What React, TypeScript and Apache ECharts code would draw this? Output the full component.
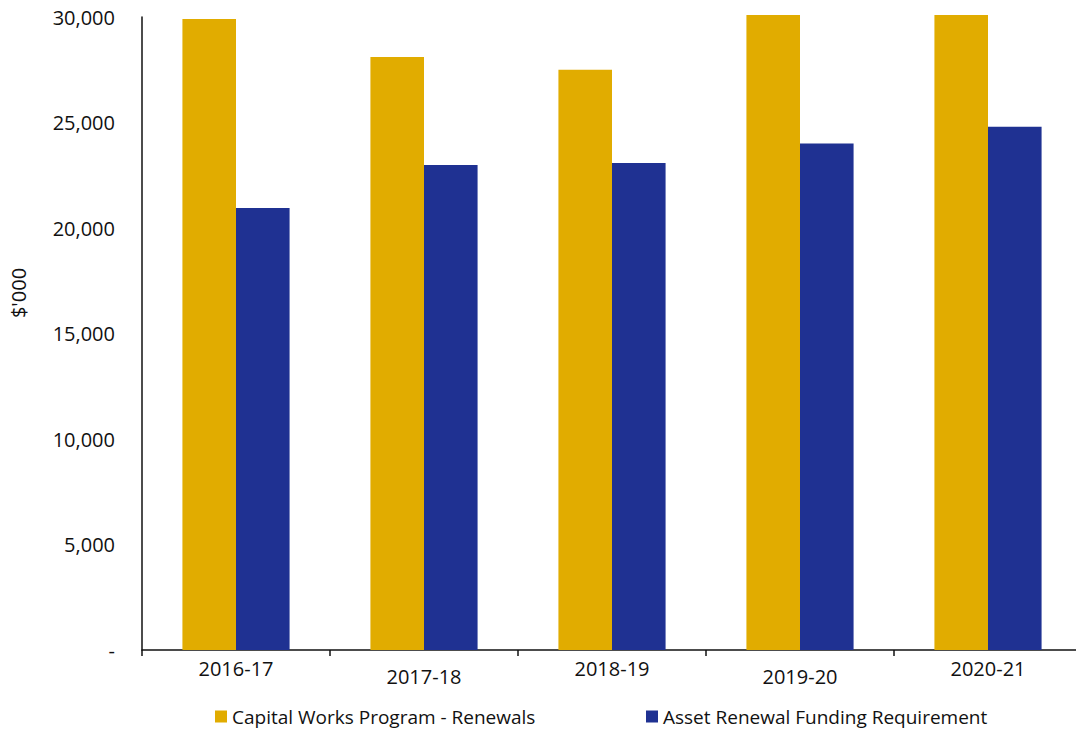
import React, { useEffect, useRef } from "react";
import * as echarts from "echarts";

const categories = ["2016-17", "2017-18", "2018-19", "2019-20", "2020-21"];
const capitalWorks = [29900, 28100, 27500, 30100, 30100];
const assetRenewal = [20950, 22980, 23080, 24010, 24800];
const seriesNames = ["Capital Works Program - Renewals", "Asset Renewal Funding Requirement"];
const yTitle = "$'000";

const FONT = "Open Sans";
const FS = 19;

export default function App() {
  const ref = useRef<HTMLDivElement>(null);
  useEffect(() => {
    if (!ref.current) return;
    const chart = echarts.init(ref.current, undefined, { renderer: "svg" });
    chart.setOption({
      animation: false,
      backgroundColor: "#ffffff",
      textStyle: { fontFamily: FONT },
      grid: { left: 142, top: 17, width: 940, height: 633, containLabel: false, outerBoundsMode: "none" },
      legend: [
        {
          data: [seriesNames[0]],
          left: 210,
          top: 702,
          itemWidth: 12,
          itemHeight: 12,
          icon: "rect",
          textStyle: { fontFamily: FONT, fontSize: FS, color: "#111" },
        },
        {
          data: [seriesNames[1]],
          left: 641,
          top: 702,
          itemWidth: 12,
          itemHeight: 12,
          icon: "rect",
          textStyle: { fontFamily: FONT, fontSize: FS, color: "#111" },
        },
      ],
      graphic: [
        {
          type: "text",
          x: 18,
          y: 293,
          rotation: Math.PI / 2,
          style: {
            text: yTitle,
            fontFamily: FONT,
            fontSize: 20,
            fill: "#111",
            textAlign: "center",
            textVerticalAlign: "middle",
          },
        },
      ],
      xAxis: {
        type: "category",
        data: categories,
        axisLine: { show: true, lineStyle: { color: "#111", width: 1.5 } },
        axisTick: { show: true, alignWithLabel: false, interval: 0, length: 6, lineStyle: { color: "#111", width: 1.5 } },
        axisLabel: {
          interval: 0,
          margin: 8,
          formatter: (v: string, i: number) => (i % 2 === 1 ? `{b|${v}}` : `{a|${v}}`),
          rich: {
            a: { fontFamily: FONT, fontSize: 20, color: "#111" },
            b: { fontFamily: FONT, fontSize: 20, color: "#111", padding: [8, 0, 0, 0] },
          },
        },
      },
      yAxis: {
        type: "value",
        min: 0,
        max: 30000,
        interval: 5000,
        axisLine: { show: true, lineStyle: { color: "#111", width: 1.5 } },
        axisTick: { show: false },
        splitLine: { show: false },
        axisLabel: {
          margin: 27,
          fontFamily: FONT,
          fontSize: 20,
          color: "#111",
          formatter: (v: number) => (v === 0 ? "-" : v.toLocaleString("en-US")),
        },
      },
      series: [
        {
          name: seriesNames[0],
          type: "bar",
          data: capitalWorks,
          barWidth: "28.5%",
          barGap: "0%",
          clip: false,
          itemStyle: { color: "#E1AC00" },
        },
        {
          name: seriesNames[1],
          type: "bar",
          data: assetRenewal,
          barWidth: "28.5%",
          barGap: "0%",
          clip: false,
          itemStyle: { color: "#1F3192" },
        },
      ],
    });
    return () => chart.dispose();
  }, []);
  return (
    <div
      ref={ref}
      style={{ position: "fixed", left: 0, top: 0, width: 1076, height: 729 }}
    />
  );
}
